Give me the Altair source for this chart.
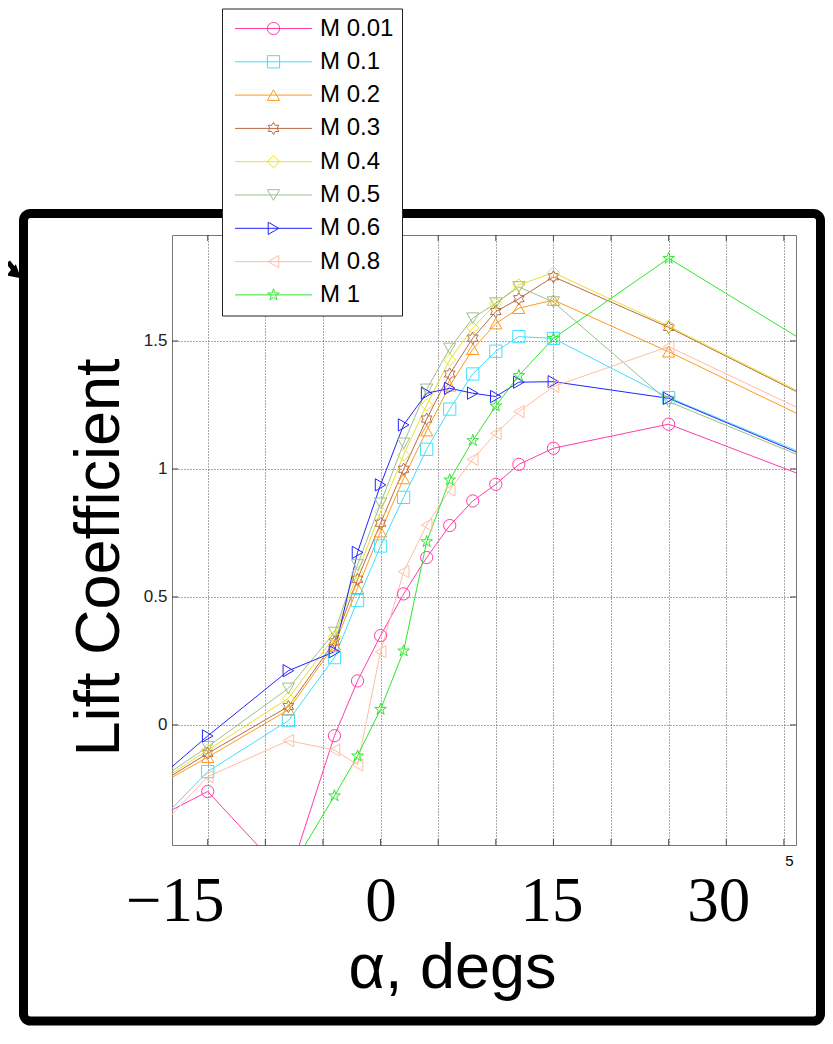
import altair as alt
import pandas as pd

# ---------------- data ----------------
series = ["M 0.01", "M 0.1", "M 0.2", "M 0.3", "M 0.4", "M 0.5", "M 0.6", "M 0.8", "M 1"]
series_pt = ["pt " + s for s in series]
colors = ["#ff3da8", "#3ee0ff", "#ff9a1a", "#b86a46", "#e8e030", "#9cbf8c", "#2424ff", "#ffbda3", "#2ee82e"]

HEXAGRAM = ("M0,-1L0.289,-0.5L0.866,-0.5L0.577,0L0.866,0.5L0.289,0.5L0,1L-0.289,0.5"
            "L-0.866,0.5L-0.577,0L-0.866,-0.5L-0.289,-0.5Z")
PENTAGRAM = ("M0,-1L0.225,-0.309L0.951,-0.309L0.363,0.118L0.588,0.809L0,0.382"
             "L-0.588,0.809L-0.363,0.118L-0.951,-0.309L-0.225,-0.309Z")
shapes = ["circle", "square", "triangle-up", HEXAGRAM, "diamond",
          "triangle-down", "triangle-right", "triangle-left", PENTAGRAM]

alpha = [-20, -15, -8, -4, -2, 0, 2, 4, 6, 8, 10, 12, 15, 25, 40]

cl_m001 = [-0.376, -0.260, -0.600, -0.042, 0.172, 0.349, 0.512, 0.654, 0.779, 0.875, 0.940, 1.018, 1.081, 1.175, 0.917]
cl_m01 = [-0.414, -0.182, 0.017, 0.263, 0.486, 0.699, 0.889, 1.077, 1.234, 1.371, 1.460, 1.517, 1.510, 1.279, 0.999]
cl_m02 = [-0.253, -0.126, 0.059, 0.313, 0.534, 0.755, 0.963, 1.150, 1.325, 1.468, 1.568, 1.628, 1.660, 1.458, 1.133]
cl_m03 = [-0.250, -0.111, 0.072, 0.325, 0.569, 0.788, 0.999, 1.195, 1.371, 1.511, 1.615, 1.665, 1.751, 1.553, 1.214]
cl_m04 = [-0.246, -0.098, 0.104, 0.345, 0.594, 0.833, 1.055, 1.250, 1.426, 1.551, 1.646, 1.719, 1.767, 1.558, 1.219]
cl_m05 = [-0.238, -0.085, 0.143, 0.361, 0.625, 0.866, 1.100, 1.311, 1.471, 1.589, 1.648, 1.711, 1.652, 1.263, 0.985]
cl_m06 = [-0.237, -0.043, 0.212, 0.286, 0.674, 0.938, 1.172, 1.296, 1.315, 1.296, 1.283, 1.339, 1.341, 1.276, 0.992]
cl_m08 = [-0.440, -0.202, -0.061, -0.098, -0.156, 0.286, 0.599, 0.781, 0.918, 1.038, 1.139, 1.224, 1.322, 1.478, 1.158]
cl_m1 = [-1.100, -0.900, -0.577, -0.277, -0.121, 0.061, 0.289, 0.716, 0.957, 1.111, 1.246, 1.365, 1.510, 1.823, 1.410]

all_cl = [cl_m001, cl_m01, cl_m02, cl_m03, cl_m04, cl_m05, cl_m06, cl_m08, cl_m1]

x_grid = [-15, -10, -5, 0, 5, 10, 15, 20, 25, 30, 35]
y_ticks = [0, 0.5, 1, 1.5]
x_domain = [-18.1, 36.05]
y_domain = [-0.469, 1.914]

rows = []
for s, sp, vals in zip(series, series_pt, all_cl):
    for a, v in zip(alpha, vals):
        rows.append({"alpha": a, "cl": v, "series": s, "series_pt": sp})
df = pd.DataFrame(rows)
df_xt = pd.DataFrame({"alpha": x_grid})
df_yt = pd.DataFrame({"cl": y_ticks})

SANS = "Liberation Sans"
SERIF = "Liberation Serif"
GRID = "#555"

x_axis = alt.Axis(
    values=x_grid, title="α, degs", titleFont=SANS, titleFontSize=63, titleFontWeight="normal",
    titleColor="black", titleX=280, titleY=142, titleAlign="center", titleBaseline="alphabetic",
    labelExpr=("datum.value == -15 ? '−15' : datum.value == 0 ? '0' : datum.value == 15 ? '15' : "
               "datum.value == 30 ? '30' : datum.value == 35 ? '5' : ''"),
    labelFont={"condition": {"test": "datum.value == 35", "value": SANS}, "value": SERIF},
    labelFontSize={"condition": {"test": "datum.value == 35", "value": 15}, "value": 63},
    labelPadding={"condition": {"test": "datum.value == 35", "value": 20}, "value": 75},
    labelOffset={"condition": [{"test": "datum.value == -15", "value": -33},
                               {"test": "datum.value == 15", "value": -2},
                               {"test": "datum.value == 30", "value": -8},
                               {"test": "datum.value == 35", "value": 5}],
                 "value": 0},
    labelColor="black", labelBaseline="alphabetic", labelOverlap=False, labelFlush=False,
    ticks=False, domain=False, grid=True, gridColor=GRID, gridDash=[1, 2], gridWidth=1,
)
y_axis = alt.Axis(
    values=y_ticks, format="~g", title="Lift Coefficient", titleFont=SANS, titleFontSize=63,
    titleFontWeight="normal", titleColor="black", titleX=-54, titleY=322, titleAngle=270,
    titleAlign="center", titleBaseline="alphabetic",
    labelFont=SANS, labelFontSize=17, labelColor="#222", labelPadding=5,
    ticks=False, domain=False, grid=True, gridColor=GRID, gridDash=[1, 2], gridWidth=1,
)

x_enc = alt.X("alpha:Q", scale=alt.Scale(domain=x_domain, nice=False, zero=False), axis=x_axis)
y_enc = alt.Y("cl:Q", scale=alt.Scale(domain=y_domain, nice=False, zero=False), axis=y_axis)

leg_common = dict(
    title=None, orient="none", legendX=50, legendY=-226.5, padding=8,
    labelFont=SANS, labelFontSize=24, labelColor="black", rowPadding=9.3,
    symbolOffset=31.5, labelOffset=34.5, labelLimit=300,
)
# lines + labels + the legend box (underneath)
leg_lines = alt.Legend(symbolType="M-5.5,0H5.5", symbolSize=196, symbolStrokeWidth=1,
                       labelExpr="datum.label + '\u00a0'",
                       fillColor="white", strokeColor="#222", zindex=1, **leg_common)
# markers only (on top), no label text
leg_marks = alt.Legend(symbolSize=150, symbolStrokeWidth=1, labelExpr="''", labelOpacity=0,
                       zindex=2, **leg_common)

lines = alt.Chart(df).mark_line(strokeWidth=1, clip=True).encode(
    x=x_enc, y=y_enc,
    color=alt.Color("series:N", scale=alt.Scale(domain=series, range=colors), legend=leg_lines),
)

points = alt.Chart(df).mark_point(filled=False, size=150, strokeWidth=1, clip=True, opacity=1).encode(
    x=x_enc, y=y_enc,
    stroke=alt.Stroke("series_pt:N", scale=alt.Scale(domain=series_pt, range=colors), legend=leg_marks),
    shape=alt.Shape("series_pt:N", scale=alt.Scale(domain=series_pt, range=shapes), legend=leg_marks),
)

# MATLAB-style inward ticks on all four sides of the box
tick_style = dict(color="#444", thickness=1, size=6, opacity=1)
xt_bottom = alt.Chart(df_xt).mark_tick(yOffset=-3, **tick_style).encode(x=x_enc, y=alt.value(610))
xt_top = alt.Chart(df_xt).mark_tick(yOffset=3, **tick_style).encode(x=x_enc, y=alt.value(0))
yt_left = alt.Chart(df_yt).mark_tick(xOffset=3, **tick_style).encode(y=y_enc, x=alt.value(0))
yt_right = alt.Chart(df_yt).mark_tick(xOffset=-3, **tick_style).encode(y=y_enc, x=alt.value(624))

deco = pd.DataFrame({"k": [0]})
frame = alt.Chart(deco).mark_rect(fillOpacity=0, stroke="black", strokeWidth=9, cornerRadius=7).encode(
    x=alt.value(-148.5), x2=alt.value(648.5), y=alt.value(-21.5), y2=alt.value(786)
)
arrow_shaft = alt.Chart(deco).mark_rule(color="black", strokeWidth=5).encode(
    x=alt.value(-164), x2=alt.value(-157), y=alt.value(27), y2=alt.value(36)
)
arrow_head = alt.Chart(deco).mark_point(shape="triangle-right", filled=True, color="black",
                                        size=220, angle=40, opacity=1).encode(
    x=alt.value(-156), y=alt.value(39)
)

chart = alt.layer(
    frame, arrow_shaft, arrow_head, xt_bottom, xt_top, yt_left, yt_right, lines, points
).properties(
    width=624, height=610, background="white",
    autosize=alt.AutoSizeParams(type="none"),
    padding={"left": 164, "top": 227, "right": 29, "bottom": 181},
).configure_view(stroke="#777", strokeWidth=1)

chart.save("out.html", embed_options={"renderer": "svg", "actions": False})
